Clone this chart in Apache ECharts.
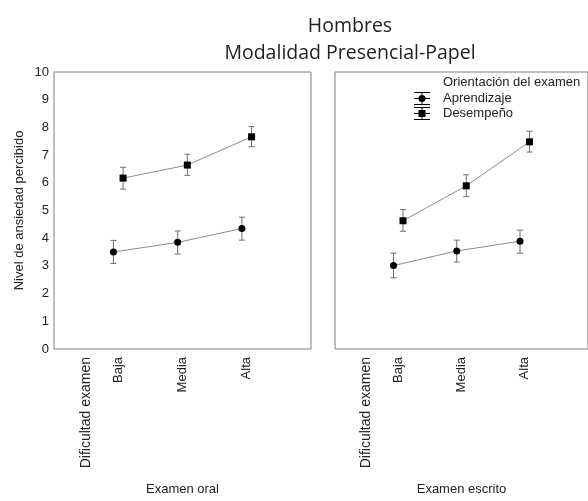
<!DOCTYPE html>
<html>
<head>
<meta charset="utf-8">
<script src="https://cdn.jsdelivr.net/npm/echarts@6/dist/echarts.min.js"></script>
<style>
  html, body { margin: 0; padding: 0; background: #fff; }
  #main { width: 588px; height: 501px; }
</style>
</head>
<body>
<div id="main"></div>
<script>
// niveles de dificultad (eje x) y valores
var niveles = ['Baja', 'Media', 'Alta'];
var yTicks = [0, 1, 2, 3, 4, 5, 6, 7, 8, 9, 10];

// Examen oral
var oralAprMedia = [3.50, 3.85, 4.35];
var oralAprBajo  = [3.09, 3.43, 3.93];
var oralAprAlto  = [3.92, 4.26, 4.76];
var oralDesMedia = [6.17, 6.64, 7.66];
var oralDesBajo  = [5.77, 6.27, 7.30];
var oralDesAlto  = [6.56, 7.03, 8.03];

// Examen escrito
var escAprMedia = [3.01, 3.54, 3.89];
var escAprBajo  = [2.57, 3.14, 3.46];
var escAprAlto  = [3.46, 3.93, 4.29];
var escDesMedia = [4.63, 5.89, 7.48];
var escDesBajo  = [4.25, 5.50, 7.11];
var escDesAlto  = [5.03, 6.29, 7.86];

var desplaza = 0.075;  // separación entre grupos dentro de cada nivel

function puntos(medias, dx) {
    return medias.map(function (v, i) { return [i + 1 + dx, v]; });
}
function barras(bajos, altos, dx) {
    return bajos.map(function (v, i) { return [i + 1 + dx, v, altos[i]]; });
}

function renderError(params, api) {
    var x = api.value(0);
    var p1 = api.coord([x, api.value(1)]);
    var p2 = api.coord([x, api.value(2)]);
    var w = 3;
    var estilo = { stroke: '#6e6e6e', lineWidth: 1 };
    return {
        type: 'group',
        children: [
            { type: 'line', shape: { x1: p1[0], y1: p1[1], x2: p2[0], y2: p2[1] }, style: estilo },
            { type: 'line', shape: { x1: p1[0] - w, y1: p1[1], x2: p1[0] + w, y2: p1[1] }, style: estilo },
            { type: 'line', shape: { x1: p2[0] - w, y1: p2[1], x2: p2[0] + w, y2: p2[1] }, style: estilo }
        ]
    };
}

function ejeX(idx, nombre) {
    return {
        type: 'value', gridIndex: idx, min: 0, max: 4, interval: 0.5,
        name: nombre, nameLocation: 'middle', nameGap: 134,
        nameTextStyle: { fontFamily: 'Liberation Sans', fontSize: 13, color: '#222' },
        axisLine: { show: false }, axisTick: { show: false }, splitLine: { show: false },
        axisLabel: {
            rotate: 90, margin: 8, fontFamily: 'Liberation Sans', fontSize: 13, color: '#222',
            showMinLabel: true, showMaxLabel: true,
            formatter: function (v) {
                if (v === 0.5) return '{d|Dificultad examen}';
                var k = Math.round(v) - 1;
                if (Math.abs(v - Math.round(v)) < 1e-6 && k >= 0 && k < niveles.length) return niveles[k];
                return '';
            },
            rich: { d: { fontFamily: 'Liberation Sans', fontSize: 14, color: '#222' } }
        }
    };
}

function ejeY(idx, conEtiquetas) {
    return {
        type: 'value', gridIndex: idx, min: yTicks[0], max: yTicks[yTicks.length - 1], interval: 1,
        name: conEtiquetas ? 'Nivel de ansiedad percibido' : '',
        nameLocation: 'middle', nameGap: 28,
        nameTextStyle: { fontFamily: 'Liberation Sans', fontSize: 13, color: '#222' },
        axisLine: { show: false }, axisTick: { show: false }, splitLine: { show: false },
        axisLabel: { show: conEtiquetas, margin: 5, fontFamily: 'Liberation Sans', fontSize: 13, color: '#222' }
    };
}

function serieLinea(nombre, idx, datos, simbolo) {
    return {
        name: nombre, type: 'line', xAxisIndex: idx, yAxisIndex: idx,
        data: datos, symbol: simbolo, symbolSize: 7, z: 5,
        itemStyle: { color: '#000' },
        lineStyle: { color: '#8c8c8c', width: 1 },
        emphasis: { disabled: true }
    };
}

function serieError(idx, datos) {
    return {
        type: 'custom', xAxisIndex: idx, yAxisIndex: idx,
        renderItem: renderError, data: datos, z: 3, silent: true,
        encode: { x: 0, y: [1, 2] }
    };
}

var iconoCirculo = 'path://M0,0H16V1H0Z M0,6H16V7H0Z M0,12H16V13H0Z M7.5,0H8.5V13H7.5Z M8,3A3.5,3.5 0 1 1 7.99,3Z';
var iconoCuadro = 'path://M0,0H16V1H0Z M0,6H16V7H0Z M0,12H16V13H0Z M7.5,0H8.5V13H7.5Z M4.5,3H11.5V10H4.5Z';

var myChart = echarts.init(document.getElementById('main'));

var option = {
    backgroundColor: '#fff',
    animation: false,
    title: {
        text: 'Hombres\nModalidad Presencial-Papel',
        left: 345, top: 8, textAlign: 'center',
        textStyle: { fontFamily: 'Open Sans', fontSize: 19.5, fontWeight: 'normal', color: '#222', lineHeight: 27, align: 'center' }
    },
    graphic: [
        { type: 'text', left: 443, top: 76,
          style: { text: 'Orientación del examen', fontFamily: 'Liberation Sans', fontSize: 13, fill: '#222' } }
    ],
    legend: {
        orient: 'vertical', left: 414, top: 92, padding: 0, itemWidth: 16, itemHeight: 13, itemGap: 2,
        selectedMode: false,
        textStyle: { fontFamily: 'Liberation Sans', fontSize: 13, color: '#222', padding: [0, 0, 0, 8] },
        data: [
            { name: 'Aprendizaje', icon: iconoCirculo },
            { name: 'Desempeño', icon: iconoCuadro }
        ]
    },
    grid: [
        { left: 54, top: 72, width: 257, height: 282, show: true, borderColor: '#7f7f7f', borderWidth: 1 },
        { left: 335, top: 72, width: 257, height: 282, show: true, borderColor: '#7f7f7f', borderWidth: 1 }
    ],
    xAxis: [ejeX(0, 'Examen oral'), ejeX(1, 'Examen escrito')],
    yAxis: [ejeY(0, true), ejeY(1, false)],
    series: [
        serieError(0, barras(oralAprBajo, oralAprAlto, -desplaza)),
        serieError(0, barras(oralDesBajo, oralDesAlto, desplaza)),
        serieError(1, barras(escAprBajo, escAprAlto, -desplaza)),
        serieError(1, barras(escDesBajo, escDesAlto, desplaza)),
        serieLinea('Aprendizaje', 0, puntos(oralAprMedia, -desplaza), 'circle'),
        serieLinea('Desempeño', 0, puntos(oralDesMedia, desplaza), 'rect'),
        serieLinea('Aprendizaje', 1, puntos(escAprMedia, -desplaza), 'circle'),
        serieLinea('Desempeño', 1, puntos(escDesMedia, desplaza), 'rect')
    ]
};
myChart.setOption(option);
</script>
</body>
</html>
